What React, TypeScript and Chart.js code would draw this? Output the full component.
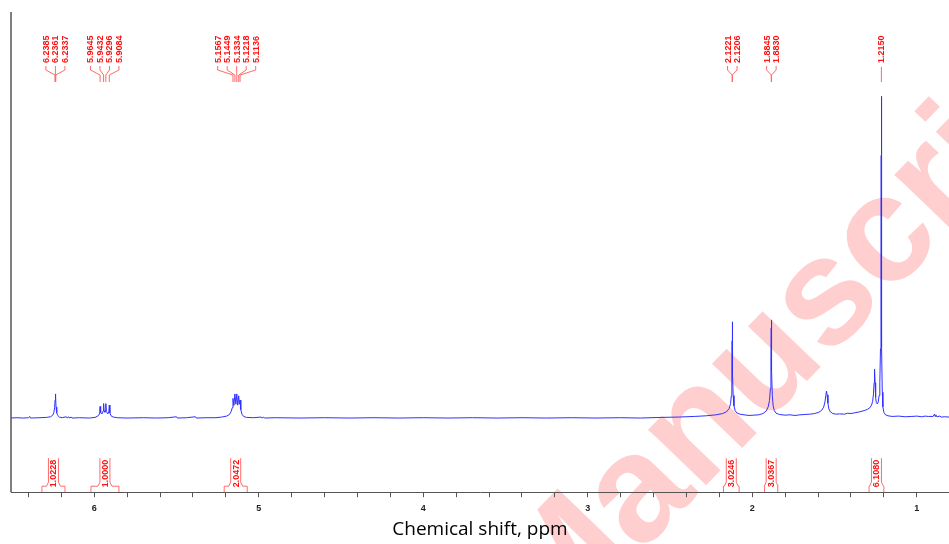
import { useEffect, useRef } from "react";
import { Chart, registerables } from "chart.js";

Chart.register(...registerables);

// Visible chemical-shift window (ppm), drawn high → low from left to right
const AXIS_MAX_PPM = 6.506;
const AXIS_MIN_PPM = 0.804;
const INTENSITY_MIN = -23.05;
const INTENSITY_MAX = 126.2;

// Tick positions on the shift axis (every 0.2 ppm, integers labelled)
const axisTicks = [
  6.4, 6.2, 6.0, 5.8, 5.6, 5.4, 5.2, 5.0, 4.8, 4.6, 4.4, 4.2, 4.0, 3.8, 3.6,
  3.4, 3.2, 3.0, 2.8, 2.6, 2.4, 2.2, 2.0, 1.8, 1.6, 1.4, 1.2, 1.0,
];

// 1H NMR trace: [shift (ppm), relative intensity]
const spectrum: [number, number][] = [
  [6.506, 0.0], [6.47, 0.1], [6.43, 0.0], [6.4, 0.1], [6.392, 0.5], [6.388, 0.0],
  [6.33, 0.1], [6.29, 0.2], [6.265, 0.4], [6.252, 0.9], [6.245, 1.8], [6.241, 3.2],
  [6.238, 5.6], [6.2361, 7.5], [6.234, 6.4], [6.232, 3.4], [6.228, 1.6], [6.222, 0.8],
  [6.212, 0.3], [6.195, 0.1], [6.17, 0.4], [6.165, 0.0], [6.155, 0.4], [6.15, 0.0],
  [6.14, 0.3], [6.135, 0.0], [6.09, 0.1], [6.03, 0.0],
  [5.995, 0.2], [5.978, 0.6], [5.97, 1.2], [5.967, 2.0], [5.9645, 3.6], [5.961, 1.7],
  [5.952, 1.3], [5.946, 2.2], [5.9432, 4.5], [5.94, 2.2], [5.935, 1.8], [5.932, 2.4],
  [5.9296, 4.5], [5.926, 2.0], [5.917, 1.3], [5.911, 2.1], [5.9084, 4.05], [5.905, 1.6],
  [5.898, 0.7], [5.885, 0.3], [5.86, 0.1], [5.8, 0.0], [5.7, 0.1], [5.62, 0.0],
  [5.55, 0.1], [5.5, 0.4], [5.495, 0.0], [5.44, 0.1], [5.385, 0.4], [5.38, 0.0],
  [5.32, 0.1], [5.26, 0.1], [5.225, 0.3], [5.195, 0.6], [5.178, 1.1], [5.168, 2.0],
  [5.161, 3.2], [5.1567, 6.1], [5.151, 3.9], [5.1449, 7.5], [5.139, 4.3], [5.1334, 7.5],
  [5.128, 4.0], [5.1218, 6.9], [5.118, 4.3], [5.1136, 5.6], [5.109, 2.6], [5.102, 1.2],
  [5.092, 0.5], [5.075, 0.2], [5.03, 0.1], [4.985, 0.3], [4.98, 0.0], [4.97, 0.3],
  [4.965, 0.0], [4.9, 0.1], [4.75, 0.0], [4.6, 0.1], [4.45, 0.0], [4.3, 0.1],
  [4.15, 0.0], [4.0, 0.1], [3.85, 0.0], [3.7, 0.1], [3.55, 0.0], [3.4, 0.1],
  [3.25, 0.0], [3.1, 0.1], [2.95, 0.0], [2.8, 0.1], [2.68, 0.0], [2.55, 0.2],
  [2.45, 0.3], [2.35, 0.5], [2.28, 0.7], [2.22, 1.0], [2.18, 1.4], [2.155, 2.0],
  [2.14, 3.0], [2.132, 4.5], [2.127, 7.0], [2.124, 12.0], [2.1221, 24.0], [2.1214, 29.9],
  [2.1206, 26.0], [2.119, 14.0], [2.116, 7.0], [2.111, 3.8], [2.104, 2.3], [2.094, 1.6],
  [2.075, 1.2], [2.05, 1.0], [2.02, 0.8], [1.99, 0.9], [1.96, 1.0], [1.935, 1.4],
  [1.915, 2.2], [1.903, 3.5], [1.895, 5.5], [1.89, 9.0], [1.8865, 18.0], [1.8845, 28.0],
  [1.8838, 30.5], [1.883, 27.0], [1.8815, 15.0], [1.878, 7.0], [1.873, 3.8], [1.866, 2.3],
  [1.855, 1.5], [1.835, 1.1], [1.8, 0.9], [1.77, 1.0], [1.74, 0.8], [1.71, 1.0],
  [1.68, 1.1], [1.65, 1.2], [1.62, 1.4], [1.595, 1.8], [1.578, 2.4], [1.566, 3.4],
  [1.558, 5.0], [1.553, 7.0], [1.5485, 8.4], [1.545, 7.2], [1.54, 4.6], [1.534, 2.8],
  [1.525, 1.9], [1.51, 1.4], [1.49, 1.2], [1.47, 1.3], [1.44, 1.2], [1.42, 1.5],
  [1.4, 1.4], [1.38, 1.6], [1.35, 1.9], [1.32, 2.3], [1.3, 2.7], [1.285, 3.2],
  [1.275, 4.0], [1.268, 5.2], [1.263, 7.5], [1.2595, 11.0], [1.2565, 15.2], [1.2535, 11.0],
  [1.25, 6.5], [1.246, 4.8], [1.24, 4.4], [1.234, 5.0], [1.229, 7.0], [1.2245, 11.0],
  [1.2205, 21.5], [1.2175, 42.0], [1.216, 81.6], [1.2152, 100.0], [1.2142, 60.0], [1.2125, 22.0],
  [1.2095, 8.0], [1.206, 3.5], [1.2, 1.8], [1.19, 1.0], [1.175, 0.7], [1.15, 0.5],
  [1.11, 0.6], [1.07, 0.4], [1.03, 0.5], [1.0, 0.6], [0.97, 0.4], [0.95, 0.6],
  [0.93, 0.5], [0.9, 0.5], [0.893, 1.2], [0.888, 0.5], [0.884, 1.0], [0.878, 0.4],
  [0.86, 0.6], [0.85, 0.3], [0.83, 0.4], [0.804, 0.3],
];

// Peak picking labels, grouped by multiplet
const peakGroups: number[][] = [
  [6.2385, 6.2361, 6.2337],
  [5.9645, 5.9432, 5.9296, 5.9084],
  [5.1567, 5.1449, 5.1334, 5.1218, 5.1136],
  [2.1221, 2.1206],
  [1.8845, 1.883],
  [1.215],
];

// Integration regions [from, to] in ppm and their integral values
const integralRanges: [number, number][] = [
  [6.318, 6.178],
  [6.02, 5.85],
  [5.21, 5.07],
  [2.175, 2.08],
  [1.925, 1.845],
  [1.29, 1.2],
];
const integralValues = ["1.0228", "1.0000", "2.0472", "3.0246", "3.0367", "6.1080"];

const RED = "#ff1010";
const RED_LINE = "#ff6a6a";
const LABEL_FONT = 'bold 9px "Liberation Sans", Arial, sans-serif';

const backdrop = {
  id: "backdrop",
  beforeDraw(chart: any) {
    const { ctx, width, height } = chart;
    ctx.save();
    ctx.fillStyle = "#ffffff";
    ctx.fillRect(0, 0, width, height);
    // diagonal watermark
    ctx.translate(552, 645);
    ctx.rotate((-46 * Math.PI) / 180);
    ctx.font = 'bold 152px "Liberation Sans", Arial, sans-serif';
    ctx.fillStyle = "rgba(255, 30, 30, 0.22)";
    ctx.textAlign = "left";
    ctx.textBaseline = "alphabetic";
    ctx.fillText("Manuscript", 0, 0);
    ctx.restore();
  },
};

const annotations = {
  id: "nmrAnnotations",
  afterDatasetsDraw(chart: any) {
    const { ctx, chartArea } = chart;
    const xs = chart.scales.x;
    const top = chartArea.top;
    const bottom = chartArea.bottom;

    ctx.save();
    // left frame line
    ctx.strokeStyle = "#555";
    ctx.lineWidth = 1.5;
    ctx.beginPath();
    ctx.moveTo(chartArea.left, top);
    ctx.lineTo(chartArea.left, bottom);
    ctx.stroke();

    ctx.font = LABEL_FONT;
    ctx.lineWidth = 1;

    // peak labels with connector lines
    const spacing = 9.5;
    peakGroups.forEach((group) => {
      const px = group.map((p) => xs.getPixelForValue(p));
      const centre = px.reduce((a, b) => a + b, 0) / px.length;
      group.forEach((p, i) => {
        const lx = centre + (i - (group.length - 1) / 2) * spacing;
        ctx.save();
        ctx.translate(lx, top + 51);
        ctx.rotate(-Math.PI / 2);
        ctx.fillStyle = RED;
        ctx.textAlign = "left";
        ctx.textBaseline = "middle";
        ctx.fillText(p.toFixed(4), 0, 0.5);
        ctx.restore();

        ctx.strokeStyle = RED_LINE;
        ctx.beginPath();
        if (group.length === 1) {
          ctx.moveTo(px[i], top + 55);
          ctx.lineTo(px[i], top + 70);
        } else {
          ctx.moveTo(lx, top + 54);
          ctx.lineTo(lx, top + 58);
          ctx.lineTo(px[i], top + 63);
          ctx.lineTo(px[i], top + 70);
        }
        ctx.stroke();
      });
    });

    // integral brackets
    integralRanges.forEach(([from, to], i) => {
      const x1 = xs.getPixelForValue(from);
      const x2 = xs.getPixelForValue(to);
      const cx = (x1 + x2) / 2;
      const bl = cx - 5;
      const br = cx + 5;
      ctx.strokeStyle = RED_LINE;
      ctx.beginPath();
      ctx.moveTo(bl, bottom - 34);
      ctx.lineTo(bl, bottom - 10);
      ctx.lineTo(bl - 2, bottom - 6);
      ctx.lineTo(x1, bottom - 6);
      ctx.lineTo(x1, bottom);
      ctx.moveTo(br, bottom - 34);
      ctx.lineTo(br, bottom - 10);
      ctx.lineTo(br + 2, bottom - 6);
      ctx.lineTo(x2, bottom - 6);
      ctx.lineTo(x2, bottom);
      ctx.stroke();

      ctx.save();
      ctx.translate(cx, bottom - 5);
      ctx.rotate(-Math.PI / 2);
      ctx.fillStyle = RED;
      ctx.textAlign = "left";
      ctx.textBaseline = "middle";
      ctx.fillText(integralValues[i], 0, 0.5);
      ctx.restore();
    });
    ctx.restore();
  },
};

export default function App() {
  const canvasRef = useRef<HTMLCanvasElement>(null);

  useEffect(() => {
    const canvas = canvasRef.current;
    if (!canvas) return;
    const chart = new Chart(canvas, {
      type: "line",
      data: {
        datasets: [
          {
            data: spectrum.map(([x, y]) => ({ x, y })),
            borderColor: "#3030ff",
            borderWidth: 1,
            pointRadius: 0,
            tension: 0,
            fill: false,
          },
        ],
      },
      options: {
        animation: false,
        responsive: false,
        devicePixelRatio: 1,
        layout: { padding: { left: 11, top: 12, right: 0, bottom: 0 } },
        plugins: {
          legend: { display: false },
          tooltip: { enabled: false },
        },
        scales: {
          x: {
            type: "linear",
            reverse: true,
            min: AXIS_MIN_PPM,
            max: AXIS_MAX_PPM,
            afterBuildTicks: (scale: any) => {
              scale.ticks = axisTicks.map((v) => ({ value: v }));
            },
            ticks: {
              autoSkip: false,
              maxRotation: 0,
              padding: 6,
              color: "#222",
              font: { family: '"Liberation Sans", Arial, sans-serif', size: 9, weight: "bold" },
              callback: (v: any) => {
                const n = Number(v);
                return Math.abs(n - Math.round(n)) < 1e-6 ? String(Math.round(n)) : "";
              },
            },
            grid: {
              display: true,
              drawOnChartArea: false,
              drawTicks: true,
              tickLength: 5,
              color: "#555",
            },
            border: { display: true, color: "#555", width: 1 },
            title: {
              display: true,
              text: "Chemical shift, ppm",
              color: "#000",
              font: { family: '"Open Sans", sans-serif', size: 19, lineHeight: 1.0 },
              padding: { top: 0, bottom: 5 },
            },
          },
          y: {
            display: false,
            min: INTENSITY_MIN,
            max: INTENSITY_MAX,
          },
        },
      },
      plugins: [backdrop, annotations],
    } as any);
    return () => chart.destroy();
  }, []);

  return (
    <div
      style={{
        position: "fixed",
        left: 0,
        top: 0,
        width: 949,
        height: 544,
        background: "#fff",
      }}
    >
      <canvas ref={canvasRef} width={949} height={544} style={{ display: "block" }} />
    </div>
  );
}
